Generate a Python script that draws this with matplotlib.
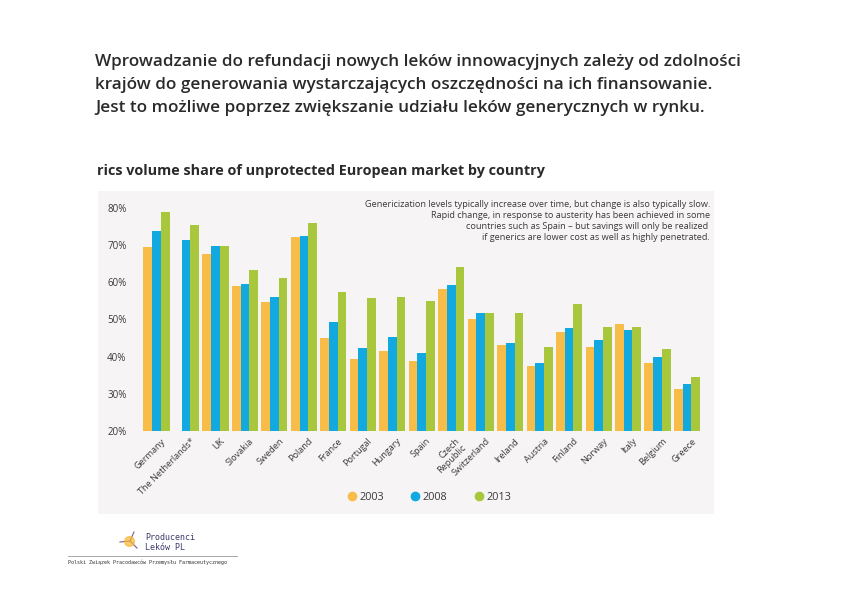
import matplotlib.pyplot as plt
from matplotlib.patches import Rectangle
from matplotlib.lines import Line2D
import numpy as np

countries = ["Germany", "The Netherlands*", "UK", "Slovakia", "Sweden", "Poland",
             "France", "Portugal", "Hungary", "Spain", "Czech\nRepublic", "Switzerland",
             "Ireland", "Austria", "Finland", "Norway", "Italy", "Belgium", "Greece"]
v2003 = [69.6, np.nan, 67.6, 59.1, 54.6, 72.3, 45.1, 39.3, 41.4, 38.9, 58.1, 50.0,
         43.1, 37.5, 46.6, 42.5, 48.9, 38.2, 31.2]
v2008 = [73.9, 71.5, 69.8, 59.5, 56.0, 72.5, 49.2, 42.2, 45.4, 40.9, 59.4, 51.7,
         43.8, 38.2, 47.6, 44.4, 47.2, 39.8, 32.6]
v2013 = [78.8, 75.5, 69.8, 63.4, 61.2, 76.0, 57.5, 55.7, 56.1, 54.9, 64.2, 51.8,
         51.7, 42.5, 54.2, 48.1, 48.1, 42.0, 34.4]
years = ["2003", "2008", "2013"]
colors = ["#f7bd48", "#12a9e1", "#a8c73c"]
yticks = [20, 30, 40, 50, 60, 70, 80]

W, H = 842, 596
fig = plt.figure(figsize=(W / 100, H / 100), dpi=100)
fig.patch.set_facecolor("white")

def fx(px):
    return px / W

def fy(py):
    return 1 - py / H

# slide text
intro = ("Wprowadzanie do refundacji nowych leków innowacyjnych zależy od zdolności\n"
         "krajów do generowania wystarczających oszczędności na ich finansowanie.\n"
         "Jest to możliwe poprzez zwiększanie udziału leków generycznych w rynku.")
fig.text(fx(95), fy(54), intro, ha="left", va="top", fontsize=12.35, color="#2a2a2a",
         family="Open Sans", fontweight="semibold", linespacing=1.57)

# chart panel
fig.patches.append(Rectangle((fx(98), fy(514)), fx(714) - fx(98), fy(191) - fy(514),
                             transform=fig.transFigure, facecolor="#f7f4f5",
                             edgecolor="none", zorder=-5))
fig.text(fx(97), fy(171), "rics volume share of unprotected European market by country",
         ha="left", va="center", fontsize=10.4, fontweight="bold", color="#2a2a2a",
         family="Open Sans")

note = ("Genericization levels typically increase over time, but change is also typically slow.\n"
        "Rapid change, in response to austerity has been achieved in some\n"
        "countries such as Spain – but savings will only be realized \n"
        "if generics are lower cost as well as highly penetrated.")
fig.text(fx(710), fy(200), note, ha="right", va="top", fontsize=6.55, color="#3a3a3a",
         family="Open Sans", linespacing=1.3, zorder=5)

ax = fig.add_axes([fx(141.8), fy(431), fx(701.7) - fx(141.8), fy(200.5) - fy(431)])
ax.set_facecolor("none")
x = np.arange(len(countries))
bw = 0.295
for i, (vals, c, lab) in enumerate(zip([v2003, v2008, v2013], colors, years)):
    ax.bar(x + (i - 1) * bw, np.array(vals) - 20, bottom=20, width=bw, color=c,
           label=lab, linewidth=0)
ax.set_xlim(-0.5, len(countries) - 0.5)
ax.set_ylim(20, 82)
ax.set_yticks(yticks)
ax.set_yticklabels([f"{t}%" for t in yticks], fontsize=7, color="#3a3a3a",
                   family="Open Sans")
ax.tick_params(axis="y", length=0, pad=11)
ax.tick_params(axis="x", length=0, pad=4)
ax.set_xticks(x + 0.15)
ax.set_xticklabels(countries, rotation=45, ha="right", rotation_mode="anchor",
                   fontsize=6.6, color="#3a3a3a", family="Open Sans", linespacing=0.95)
for s in ax.spines.values():
    s.set_visible(False)

handles = [Line2D([], [], marker="o", linestyle="none", markersize=6, color=c,
                  label=lab) for c, lab in zip(colors, years)]
leg = ax.legend(handles=handles, loc="center", bbox_to_anchor=(fx(430), fy(497)),
                bbox_transform=fig.transFigure, ncol=3, frameon=False,
                handlelength=0.6, columnspacing=2.6, handletextpad=0.4,
                prop={"family": "Open Sans", "size": 7.8})
for t in leg.get_texts():
    t.set_color("#3a3a3a")

# logo
fig.lines.append(Line2D([fx(120), fx(130), fx(137)], [fy(542), fy(541), fy(548)],
                        transform=fig.transFigure, color="#7a5c8a", lw=0.8))
fig.lines.append(Line2D([fx(130), fx(134)], [fy(541), fy(532)],
                        transform=fig.transFigure, color="#7a5c8a", lw=0.8))
fig.lines.append(Line2D([fx(129)], [fy(541)], transform=fig.transFigure, marker="o",
                        markersize=7, color="#f7b733", alpha=0.7, lw=0))
fig.text(fx(145), fy(537), "Producenci", fontsize=6, color="#3b3b6b", va="center",
         family="DejaVu Sans Mono")
fig.text(fx(145), fy(548), "Leków PL", fontsize=6, color="#3b3b6b", va="center",
         family="DejaVu Sans Mono")
fig.lines.append(Line2D([fx(68), fx(237)], [fy(556), fy(556)], transform=fig.transFigure,
                        color="#9a9a9a", lw=0.6))
fig.text(fx(68), fy(562), "Polski Związek Pracodawców Przemysłu Farmaceutycznego",
         fontsize=3.6, color="#333333", va="center", family="DejaVu Sans Mono")

fig.savefig("out.png", dpi=100)
